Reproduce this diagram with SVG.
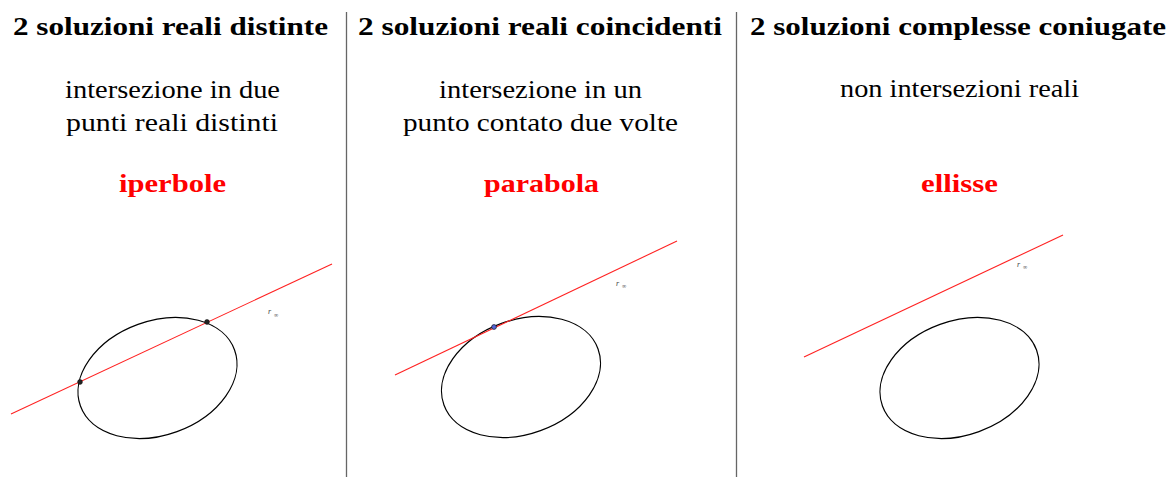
<svg xmlns="http://www.w3.org/2000/svg" width="1173" height="477" viewBox="0 0 1173 477">
<style>
text{font-family:"Liberation Serif","DejaVu Serif",serif;text-anchor:middle}
.title{font-size:26px;font-weight:bold;fill:#000}
.sub{font-size:26px;fill:#000}
.conic{font-size:26px;font-weight:bold;fill:#ff0000}
.rlab{font-size:8px;font-style:italic;fill:#444;text-anchor:start}
.inf{font-size:6px;fill:#444;text-anchor:start}
.sep{stroke:#666;stroke-width:1.3}
.rline{stroke:#f22;stroke-width:1.1;fill:none}
.ell{stroke:#000;stroke-width:1.2;fill:none}
.pt{fill:#222;stroke:#111;stroke-width:0.6}
.ptb{fill:#5566dd;stroke:#223;stroke-width:0.8}
</style>
<rect width="1173" height="477" fill="#fff"/>
<g id="separators">
<line class="sep" x1="346.5" y1="12" x2="346.5" y2="477"/>
<line class="sep" x1="736.5" y1="12" x2="736.5" y2="477"/>
</g>
<g id="panel-iperbole">
<text class="title" x="170.5" y="35" textLength="315" lengthAdjust="spacingAndGlyphs">2 soluzioni reali distinte</text>
<text class="sub" x="172.5" y="98" textLength="215" lengthAdjust="spacingAndGlyphs">intersezione in due</text>
<text class="sub" x="172" y="131" textLength="212" lengthAdjust="spacingAndGlyphs">punti reali distinti</text>
<text class="conic" x="172.5" y="192" textLength="107" lengthAdjust="spacingAndGlyphs">iperbole</text>
<ellipse class="ell" cx="157.5" cy="378" rx="82" ry="57" transform="rotate(-20 157.5 378)"/>
<line class="rline" x1="11" y1="414" x2="332" y2="264"/>
<circle class="pt" cx="80" cy="382" r="2.4"/>
<circle class="pt" cx="207" cy="322" r="2.4"/>
<text class="rlab" x="268" y="314">r</text>
<text class="inf" x="274" y="317">∞</text>
</g>
<g id="panel-parabola">
<text class="title" x="540" y="35" textLength="364" lengthAdjust="spacingAndGlyphs">2 soluzioni reali coincidenti</text>
<text class="sub" x="540.5" y="98" textLength="203" lengthAdjust="spacingAndGlyphs">intersezione in un</text>
<text class="sub" x="540.5" y="131" textLength="275" lengthAdjust="spacingAndGlyphs">punto contato due volte</text>
<text class="conic" x="541.5" y="192" textLength="115" lengthAdjust="spacingAndGlyphs">parabola</text>
<ellipse class="ell" cx="521" cy="377" rx="82" ry="57" transform="rotate(-20 521 377)"/>
<line class="rline" x1="395" y1="375" x2="677" y2="241"/>
<circle class="ptb" cx="494" cy="327" r="2.4"/>
<text class="rlab" x="616" y="286">r</text>
<text class="inf" x="622" y="288">∞</text>
</g>
<g id="panel-ellisse">
<text class="title" x="958" y="35" textLength="416" lengthAdjust="spacingAndGlyphs">2 soluzioni complesse coniugate</text>
<text class="sub" x="959.5" y="97" textLength="239" lengthAdjust="spacingAndGlyphs">non intersezioni reali</text>
<text class="conic" x="959.5" y="192" textLength="77" lengthAdjust="spacingAndGlyphs">ellisse</text>
<ellipse class="ell" cx="959.5" cy="378" rx="82" ry="57" transform="rotate(-20 959.5 378)"/>
<line class="rline" x1="804" y1="357" x2="1063" y2="235"/>
<text class="rlab" x="1017" y="267">r</text>
<text class="inf" x="1023" y="269">∞</text>
</g>
</svg>
